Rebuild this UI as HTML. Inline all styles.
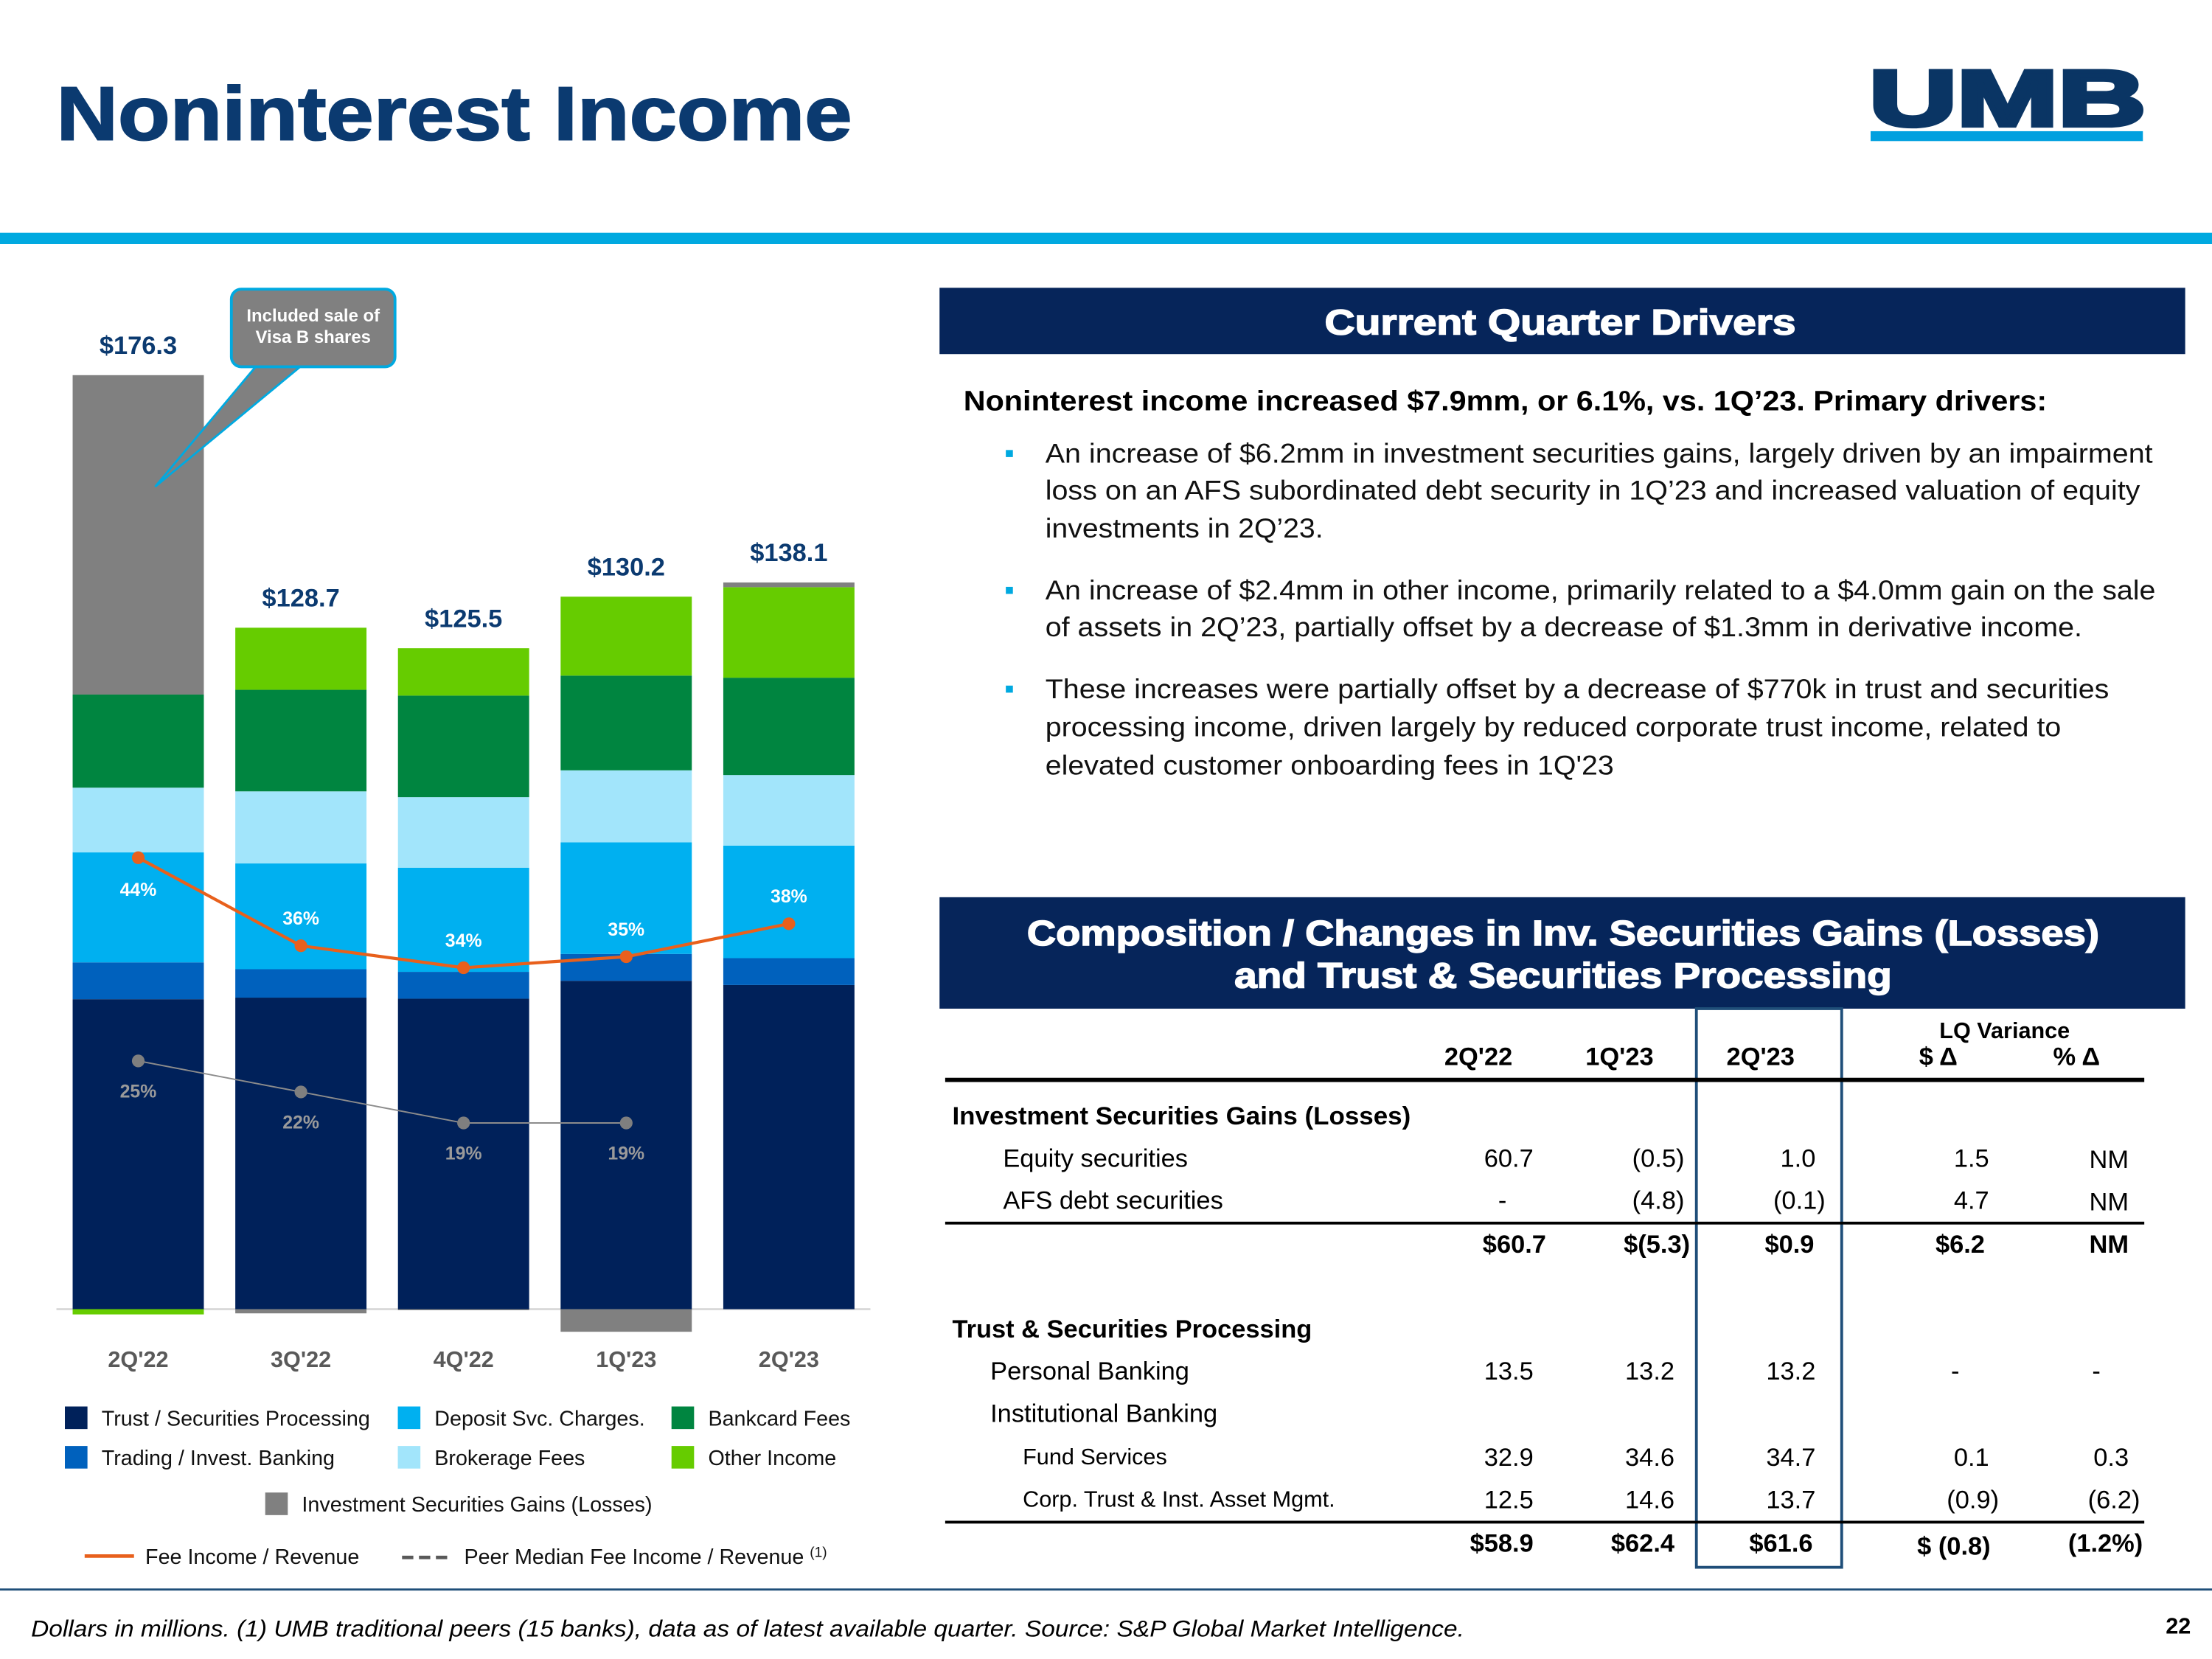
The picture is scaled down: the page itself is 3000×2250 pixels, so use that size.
<!DOCTYPE html>
<html><head><meta charset="utf-8"><style>
html,body{margin:0;padding:0;background:#fff;}
svg{display:block;font-family:"Liberation Sans",Arial,sans-serif;}
.n{font-family:"Liberation Sans Narrow","Liberation Sans",sans-serif;}
</style></head><body>
<svg id="s" width="3000" height="2250" viewBox="0 0 1568 1176" xmlns="http://www.w3.org/2000/svg">
<text x="40" y="99" font-size="54" font-weight="bold" fill="#0b3a70" textLength="564" lengthAdjust="spacingAndGlyphs" stroke="#0b3a70" stroke-width="1">Noninterest Income</text>
<g>
<text x="1325" y="89" font-size="56" font-weight="bold" fill="#0a3564" textLength="196" lengthAdjust="spacingAndGlyphs" stroke="#0a3564" stroke-width="3">UMB</text>
<rect x="1326" y="93" width="193" height="7" fill="#00a0df"/>
</g>
<rect x="0" y="165" width="1568" height="8" fill="#00a9e0"/>

<g id="chart"></g>

<g>
<rect x="666" y="204" width="883" height="47" fill="#06255a"/>
<text x="939" y="237" font-size="25" font-weight="bold" fill="#fff" stroke="#fff" stroke-width="0.8" textLength="334" lengthAdjust="spacingAndGlyphs">Current Quarter Drivers</text>
<text x="683" y="291" font-size="20" font-weight="bold" fill="#000" textLength="768" lengthAdjust="spacingAndGlyphs">Noninterest income increased $7.9mm, or 6.1%, vs. 1Q’23. Primary drivers:</text>
<g font-size="19.5" fill="#111">
<rect x="713" y="319" width="5" height="5" fill="#00a9e0"/>
<text x="741" y="328" textLength="785" lengthAdjust="spacingAndGlyphs">An increase of $6.2mm in investment securities gains, largely driven by an impairment</text>
<text x="741" y="354" textLength="776" lengthAdjust="spacingAndGlyphs">loss on an AFS subordinated debt security in 1Q’23 and increased valuation of equity</text>
<text x="741" y="381" textLength="197" lengthAdjust="spacingAndGlyphs">investments in 2Q’23.</text>
<rect x="713" y="416" width="5" height="5" fill="#00a9e0"/>
<text x="741" y="425" textLength="787" lengthAdjust="spacingAndGlyphs">An increase of $2.4mm in other income, primarily related to a $4.0mm gain on the sale</text>
<text x="741" y="451" textLength="735" lengthAdjust="spacingAndGlyphs">of assets in 2Q’23, partially offset by a decrease of $1.3mm in derivative income.</text>
<rect x="713" y="486" width="5" height="5" fill="#00a9e0"/>
<text x="741" y="495" textLength="754" lengthAdjust="spacingAndGlyphs">These increases were partially offset by a decrease of $770k in trust and securities</text>
<text x="741" y="522" textLength="720" lengthAdjust="spacingAndGlyphs">processing income, driven largely by reduced corporate trust income, related to</text>
<text x="741" y="549" textLength="403" lengthAdjust="spacingAndGlyphs">elevated customer onboarding fees in 1Q'23</text>
</g>
</g>

<g>
<rect x="666" y="636" width="883" height="79" fill="#06255a"/>
<text x="728" y="670" font-size="25" font-weight="bold" fill="#fff" stroke="#fff" stroke-width="0.8" textLength="760" lengthAdjust="spacingAndGlyphs">Composition / Changes in Inv. Securities Gains (Losses)</text>
<text x="875" y="700" font-size="25" font-weight="bold" fill="#fff" stroke="#fff" stroke-width="0.8" textLength="466" lengthAdjust="spacingAndGlyphs">and Trust &amp; Securities Processing</text>
<rect x="1202.5" y="715" width="103" height="396" fill="none" stroke="#1f4e79" stroke-width="2"/>
<g class="n" font-size="18" fill="#000">
<g font-weight="bold" text-anchor="middle">
<text x="1048" y="755">2Q'22</text><text x="1148" y="755">1Q'23</text><text x="1248" y="755">2Q'23</text>
<text x="1421" y="736" font-size="16">LQ Variance</text>
<text x="1374" y="755">$ Δ</text><text x="1472" y="755">% Δ</text>
</g>
<rect x="670" y="764" width="850" height="3" fill="#000"/>
<text x="675" y="797" font-weight="bold" textLength="325" lengthAdjust="spacingAndGlyphs">Investment Securities Gains (Losses)</text>
<text x="711" y="827">Equity securities</text>
<text x="711" y="857">AFS debt securities</text>
<rect x="670" y="866" width="850" height="2" fill="#000"/>
<text x="675" y="948" font-weight="bold">Trust &amp; Securities Processing</text>
<text x="702" y="978">Personal Banking</text>
<text x="702" y="1008">Institutional Banking</text>
<text x="725" y="1038" font-size="16">Fund Services</text>
<text x="725" y="1068" font-size="16">Corp. Trust &amp; Inst. Asset Mgmt.</text>
<rect x="670" y="1078" width="850" height="2" fill="#000"/>
<g text-anchor="end">
<text x="1087" y="827">60.7</text><text x="1194" y="827">(0.5)</text><text x="1287" y="827">1.0</text><text x="1410" y="827">1.5</text><text x="1509" y="828">NM</text>
<text x="1068" y="857">-</text><text x="1194" y="857">(4.8)</text><text x="1294" y="857">(0.1)</text><text x="1410" y="857">4.7</text><text x="1509" y="858">NM</text>
<g font-weight="bold"><text x="1096" y="888">$60.7</text><text x="1198" y="888">$(5.3)</text><text x="1286" y="888">$0.9</text><text x="1407" y="888">$6.2</text><text x="1509" y="888">NM</text></g>
<text x="1087" y="978">13.5</text><text x="1187" y="978">13.2</text><text x="1287" y="978">13.2</text><text x="1389" y="978">-</text><text x="1489" y="978">-</text>
<text x="1087" y="1039">32.9</text><text x="1187" y="1039">34.6</text><text x="1287" y="1039">34.7</text><text x="1410" y="1039">0.1</text><text x="1509" y="1039">0.3</text>
<text x="1087" y="1069">12.5</text><text x="1187" y="1069">14.6</text><text x="1287" y="1069">13.7</text><text x="1417" y="1069">(0.9)</text><text x="1517" y="1069">(6.2)</text>
<g font-weight="bold"><text x="1087" y="1100">$58.9</text><text x="1187" y="1100">$62.4</text><text x="1285" y="1100">$61.6</text><text x="1411" y="1102">$ (0.8)</text><text x="1519" y="1100">(1.2%)</text></g>
</g>
</g>
</g>

<rect x="0" y="1126" width="1568" height="1.5" fill="#1f4e79"/>
<text x="22" y="1160" font-size="16.5" font-style="italic" fill="#000" textLength="1016" lengthAdjust="spacingAndGlyphs">Dollars in millions. (1) UMB traditional peers (15 banks), data as of latest available quarter. Source: S&amp;P Global Market Intelligence.</text>
<text x="1553" y="1158" font-size="16" font-weight="bold" text-anchor="end">22</text>
</svg>
<script>
const categories = ["2Q'22","3Q'22","4Q'22","1Q'23","2Q'23"];
const trust = [58.9, 59.2, 59.0, 62.4, 61.6];
const trading = [7.0, 5.4, 5.1, 5.1, 5.1];
const deposit = [20.9, 20.1, 19.8, 21.2, 21.4];
const brokerage = [12.3, 13.7, 13.4, 13.7, 13.4];
const bankcard = [17.7, 19.3, 19.3, 18.0, 18.5];
const otherIncome = [-1.0, 11.8, 9.0, 15.0, 17.2];
const invSec = [60.7, -0.8, -0.2, -4.3, 0.9];
const totals = ["$176.3","$128.7","$125.5","$130.2","$138.1"];
const feeRatio = [44, 36, 34, 35, 38];
const peerRatio = [25, 22, 19, 19];

const NS = "http://www.w3.org/2000/svg";
const g = document.getElementById('chart');
function el(tag, attrs, parent){ const e=document.createElementNS(NS,tag); for(const k in attrs) e.setAttribute(k,attrs[k]); (parent||g).appendChild(e); return e; }
const base = 928, unit = 3.73, barW = 93;
const xC = i => 98 + i*115.3;
const yV = v => base - v*unit;
const yFee = v => 951.2 - 7.8*v;
const yPeer = v => 935.3 - 7.33*v;

const seriesList = [
 [trust,'#00215a','trust'],[trading,'#0061bd','trading'],[deposit,'#00b0f0','deposit'],
 [brokerage,'#a2e5fb','brokerage'],[bankcard,'#008540','bankcard'],[otherIncome,'#66cc00','other-income'],[invSec,'#808080','inv-sec']];

const axis = el('line',{x1:40,x2:617,y1:base,y2:base,stroke:'#d9d9d9','stroke-width':1.5});



categories.forEach((c,i)=>{
  let pos=0, neg=0;
  seriesList.forEach(([arr,col,nm])=>{
    const v=arr[i]; let y0,y1;
    if(v>=0){ y0=yV(pos+v); y1=yV(pos); pos+=v; } else { y0=yV(neg); y1=yV(neg+v); neg+=v; }
    const r=el('rect',{x:xC(i)-barW/2,y:y0,width:barW,height:Math.max(0,y1-y0),fill:col});
    
    
  });
  const t=el('text',{x:xC(i),y:yV(pos)-15,'font-size':18,'font-weight':'bold',fill:'#0b3a70','text-anchor':'middle'});
  t.textContent=totals[i];
  
  
  const cl=el('text',{x:xC(i),y:969,'font-size':16,'font-weight':'bold',fill:'#595959','text-anchor':'middle'});
  cl.textContent=c;
  
  
});

const pp=el('polyline',{points:peerRatio.map((v,i)=>xC(i)+','+yPeer(v)).join(' '),fill:'none',stroke:'#8c8c8c','stroke-width':1});


peerRatio.forEach((v,i)=>{
  const c=el('circle',{cx:xC(i),cy:yPeer(v),r:4.5,fill:'#7f7f7f'});
  
  
  const t=el('text',{x:xC(i),y:yPeer(v)+26,'font-size':13,'font-weight':'bold',fill:'#9a9a9a','text-anchor':'middle'});
  t.textContent=v+'%';
  
  
});
const fp=el('polyline',{points:feeRatio.map((v,i)=>xC(i)+','+yFee(v)).join(' '),fill:'none',stroke:'#e8601c','stroke-width':2.2});


feeRatio.forEach((v,i)=>{
  const c=el('circle',{cx:xC(i),cy:yFee(v),r:4.5,fill:'#e8601c'});
  
  
  const t=el('text',{x:xC(i),y:yFee(v)+(i===0?27:-15),'font-size':13,'font-weight':'bold',fill:'#fff','text-anchor':'middle'});
  t.textContent=v+'%';
  
  
});

const cg=el('g',{});


el('path',{d:'M182,259 L110,345 L214,259 Z',fill:'#808080',stroke:'#00a9e0','stroke-width':1.5},cg);
el('rect',{x:164,y:205,width:116,height:55,rx:7,fill:'#808080',stroke:'#00a9e0','stroke-width':2},cg);
el('rect',{x:180,y:255,width:36,height:4,fill:'#808080'},cg);
const c1=el('text',{x:222,y:228,'font-size':12.5,'font-weight':'bold',fill:'#fff','text-anchor':'middle'},cg); c1.textContent='Included sale of';
const c2=el('text',{x:222,y:243,'font-size':12.5,'font-weight':'bold',fill:'#fff','text-anchor':'middle'},cg); c2.textContent='Visa B shares';

const legend=[['Trust / Securities Processing','#00215a',46,1005],['Deposit Svc. Charges.','#00b0f0',282,1005],['Bankcard Fees','#008540',476,1005],
 ['Trading / Invest. Banking','#0061bd',46,1033],['Brokerage Fees','#a2e5fb',282,1033],['Other Income','#66cc00',476,1033],['Investment Securities Gains (Losses)','#808080',188,1066]];
legend.forEach(([lab,col,x,y],i)=>{
  const lg=el('g',{});
  
  
  el('rect',{x:x,y:y-8,width:16,height:16,fill:col},lg);
  const t=el('text',{x:x+26,y:y+5.5,'font-size':15,fill:'#111'},lg); t.textContent=lab;
});
const l1=el('g',{});  
el('line',{x1:60,x2:95,y1:1103,y2:1103,stroke:'#e8601c','stroke-width':2.5},l1);
const t1=el('text',{x:103,y:1108.5,'font-size':15,fill:'#111'},l1); t1.textContent='Fee Income / Revenue';
const l2=el('g',{});  
el('line',{x1:285,x2:321,y1:1104,y2:1104,stroke:'#595959','stroke-width':2.5,'stroke-dasharray':'8,4'},l2);
const t2=el('text',{x:329,y:1108.5,'font-size':15,fill:'#111'},l2); t2.textContent='Peer Median Fee Income / Revenue ';
const sup=el('tspan',{'font-size':10,dy:-5},t2); sup.textContent='(1)';
</script>
</body></html>
